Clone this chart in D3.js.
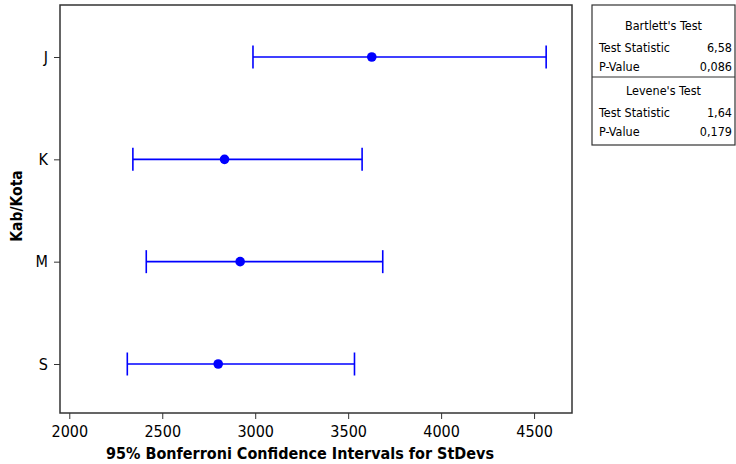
<!DOCTYPE html>
<html>
<head>
<meta charset="utf-8">
<script src="https://cdn.jsdelivr.net/npm/d3@7"></script>
<style>
  body { margin: 0; background: #fff; }
  svg { display: block; font-family: "DejaVu Sans Condensed", "DejaVu Sans", sans-serif; }
</style>
</head>
<body>
<svg width="736" height="464"></svg>
<script>
var groups = ["J", "K", "M", "S"];
var lower = [2988, 2342, 2414, 2312];
var sigma = [3627, 2835, 2919, 2801];
var upper = [4565, 3575, 3686, 3534];
var xTicks = [2000, 2500, 3000, 3500, 4000, 4500];

var bartlett = [["Test Statistic", "6,58"], ["P-Value", "0,086"]];
var levene = [["Test Statistic", "1,64"], ["P-Value", "0,179"]];

var svg = d3.select("svg");
var plotL = 60, plotR = 572, plotT = 5, plotB = 413;

var x = d3.scaleLinear().domain([1950, 4704]).range([plotL, plotR]);
var y = d3.scalePoint().domain(groups).range([57, 364]);

var rows = groups.map(function(g, i) {
    return { g: g, lo: lower[i], mid: sigma[i], hi: upper[i] };
});

// frame
svg.append("rect")
    .attr("x", plotL).attr("y", plotT)
    .attr("width", plotR - plotL).attr("height", plotB - plotT)
    .attr("fill", "none").attr("stroke", "#333").attr("stroke-width", 1.5);

var xAxis = svg.append("g")
    .attr("transform", "translate(0," + plotB + ")")
    .call(d3.axisBottom(x).tickValues(xTicks).tickFormat(d3.format("d"))
        .tickSize(6).tickSizeOuter(0).tickPadding(7));
xAxis.select(".domain").remove();
xAxis.selectAll("line").attr("stroke", "#333");
xAxis.selectAll("text").attr("font-size", 16).attr("fill", "#000")
    .attr("font-family", "DejaVu Sans Condensed");

var yAxis = svg.append("g")
    .attr("transform", "translate(" + plotL + ",0)")
    .call(d3.axisLeft(y).tickSize(6).tickSizeOuter(0).tickPadding(6));
yAxis.select(".domain").remove();
yAxis.selectAll("line").attr("stroke", "#333");
yAxis.selectAll("text").attr("font-size", 16).attr("fill", "#000")
    .attr("font-family", "DejaVu Sans Condensed");

// intervals
var ci = svg.selectAll(".ci").data(rows).enter().append("g").attr("class", "ci");
ci.append("line")
    .attr("x1", function(d) { return x(d.lo); })
    .attr("x2", function(d) { return x(d.hi); })
    .attr("y1", function(d) { return y(d.g); })
    .attr("y2", function(d) { return y(d.g); })
    .attr("stroke", "#0000ff").attr("stroke-width", 1.6);
ci.append("line")
    .attr("x1", function(d) { return x(d.lo); })
    .attr("x2", function(d) { return x(d.lo); })
    .attr("y1", function(d) { return y(d.g) - 11.5; })
    .attr("y2", function(d) { return y(d.g) + 11.5; })
    .attr("stroke", "#0000ff").attr("stroke-width", 1.6);
ci.append("line")
    .attr("x1", function(d) { return x(d.hi); })
    .attr("x2", function(d) { return x(d.hi); })
    .attr("y1", function(d) { return y(d.g) - 11.5; })
    .attr("y2", function(d) { return y(d.g) + 11.5; })
    .attr("stroke", "#0000ff").attr("stroke-width", 1.6);
ci.append("circle")
    .attr("cx", function(d) { return x(d.mid); })
    .attr("cy", function(d) { return y(d.g); })
    .attr("r", 4.8)
    .attr("fill", "#0000ff");

// titles
svg.append("text")
    .attr("x", 300).attr("y", 459)
    .attr("text-anchor", "middle")
    .attr("font-size", 16).attr("font-weight", "bold")
    .text("95% Bonferroni Confidence Intervals for StDevs");

svg.append("text")
    .attr("transform", "translate(22,206) rotate(-90)")
    .attr("text-anchor", "middle")
    .attr("font-size", 15.5).attr("font-weight", "bold")
    .text("Kab/Kota");

// test table
var tbl = svg.append("g");
var tx0 = 592, tx1 = 735;
tbl.append("rect")
    .attr("x", tx0).attr("y", 5).attr("width", tx1 - tx0).attr("height", 140)
    .attr("fill", "none").attr("stroke", "#333").attr("stroke-width", 1.2);
tbl.append("line")
    .attr("x1", tx0).attr("x2", tx1).attr("y1", 77).attr("y2", 77)
    .attr("stroke", "#333").attr("stroke-width", 1.2);

function block(title, items, y0) {
    tbl.append("text")
        .attr("x", (tx0 + tx1) / 2).attr("y", y0)
        .attr("text-anchor", "middle").attr("font-size", 12.5)
        .text(title);
    items.forEach(function(it, i) {
        var yy = y0 + 22 + i * 19;
        tbl.append("text").attr("x", 599).attr("y", yy).attr("font-size", 12.5).text(it[0]);
        tbl.append("text").attr("x", 732).attr("y", yy).attr("font-size", 12.5)
            .attr("text-anchor", "end").text(it[1]);
    });
}
block("Bartlett's Test", bartlett, 30);
block("Levene's Test", levene, 95);
</script>
</body>
</html>
